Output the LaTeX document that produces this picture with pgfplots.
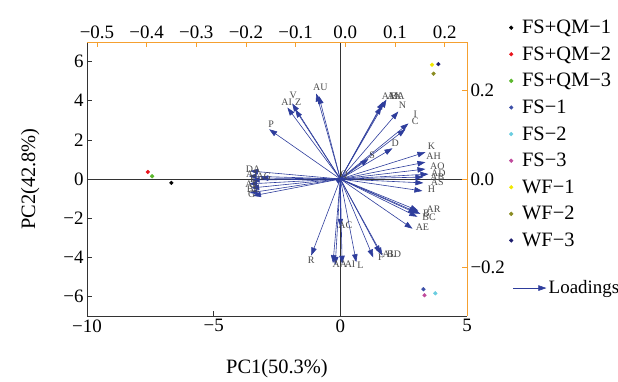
\documentclass[border=0pt]{standalone}
\usepackage{pgfplots}
\usepackage{pgfplotstable}
\pgfplotsset{compat=1.18}
\usepackage{fontspec}
\setmainfont{Liberation Serif}
\usetikzlibrary{arrows.meta}
\definecolor{axorange}{HTML}{F5A030}
\definecolor{arrowblue}{HTML}{2E3D9C}
\definecolor{labgray}{HTML}{4A4A4A}
\definecolor{cred}{HTML}{E8141C}
\definecolor{cgreen}{HTML}{5CB82E}
\definecolor{cblue}{HTML}{3C4FA8}
\definecolor{ccyan}{HTML}{6ACDE0}
\definecolor{cmag}{HTML}{C04A9C}
\definecolor{cyel}{HTML}{F0E800}
\definecolor{colive}{HTML}{8A8C22}
\definecolor{cnavy}{HTML}{1E1E6E}
\newcommand{\bigf}{\fontsize{19}{22}\selectfont}
\newcommand{\legf}{\fontsize{20.5}{23}\selectfont}

\pgfplotstableread{
u v
-0.95 4.37
-0.85 4.25
-1.90 3.86
-2.09 3.65
-1.78 3.55
-2.81 2.54
1.70 3.96
1.62 3.71
1.82 4.06
2.29 3.45
2.69 2.84
2.57 2.54
2.06 1.57
1.11 1.02
3.36 1.37
3.36 0.86
3.36 0.51
3.48 0.25
3.28 0.10
3.28 -0.20
3.24 -0.61
3.08 -1.62
3.16 -1.78
3.04 -1.93
3.00 -1.75
2.85 -2.54
0.00 -2.44
-1.15 -3.91
-0.29 -4.30
-0.20 -4.38
0.07 -4.33
0.63 -4.25
1.30 -4.01
1.58 -3.81
1.66 -3.91
-3.56 0.41
-3.62 0.15
-3.50 -0.05
-3.60 -0.25
-3.52 -0.46
-3.58 -0.71
-3.45 -0.86
-3.16 0.05
0.12 0.10
}\loadings

\pgfplotstableread{
x y lab
-0.79 4.67 AU
-1.86 4.26 V
-2.12 3.91 AI
-1.66 3.91 Z
-2.73 2.81 P
1.96 4.21 AM
2.14 4.21 AX
2.26 4.21 BA
2.45 3.76 N
2.96 3.30 I
2.96 2.94 C
2.17 1.83 D
1.26 1.22 S
3.60 1.68 K
3.68 1.17 AH
3.83 0.63 AO
3.87 0.32 AD
3.83 0.08 AB
3.83 -0.18 AS
3.60 -0.51 H
3.68 -1.55 AR
3.40 -1.73 B
3.50 -1.95 BC
3.24 -2.44 AE
0.20 -2.34 AC
-1.15 -4.16 R
-0.02 -4.37 AA
0.32 -4.37 A
0.52 -4.37 I
0.79 -4.42 L
1.60 -4.02 F
1.93 -3.82 AL
2.12 -3.82 BD
-3.44 0.52 DA
-3.50 0.25 AJ
-3.44 -0.01 E
-3.50 -0.26 AF
-3.44 -0.51 BE
-3.50 -0.78 G
-3.02 0.15 AG
0.15 0.20 Q
}\labels

\begin{document}
\begin{tikzpicture}
\path[use as bounding box] (-87bp,-66bp) rectangle (531bp,316bp);
\begin{axis}[at={(0,0)}, anchor=south west,
  width=380bp, height=274bp, scale only axis,
  xmin=-10, xmax=5, ymin=-7, ymax=7,
  axis x line*=bottom, axis y line*=left,
  axis line style={-, draw=black!80, line width=0.7bp},
  tick align=inside, major tick length=5bp, tick style={black!80, line width=0.7bp},
  xtick={-10,-5,0,5}, xticklabels={−10,−5,0,5},
  ytick={-6,-4,-2,0,2,4,6}, yticklabels={−6,−4,−2,0,2,4,6},
  /pgf/number format/assume math mode=true,
  ticklabel style={font=\bigf},
  xlabel={PC1(50.3\%)}, ylabel={PC2(42.8\%)},
  label style={font=\legf},
  xlabel style={yshift=-20bp}, ylabel style={yshift=17bp},
  clip=false,
  legend style={at={(1.103,1.095)}, anchor=north west, draw=none, fill=none,
    font=\legf, row sep=7.6bp,
    /tikz/every odd column/.append style={column sep=7bp}},
  legend cell align=left,
  legend image code/.code={\draw[#1] plot coordinates {(0bp,0bp)};},
]
\draw[black!80, line width=0.8bp] (axis cs:0,-7) -- (axis cs:0,7);
\draw[black!80, line width=0.8bp] (axis cs:-10,0) -- (axis cs:5,0);
\addplot[forget plot, no markers, arrowblue, line width=0.6bp,
  -{Triangle[length=8bp,width=5.5bp]},
  quiver={u=\thisrow{u}, v=\thisrow{v}}]
  table[x expr=0, y expr=0] {\loadings};
\addplot[forget plot, draw=none, mark=none, nodes near coords,
  point meta=explicit symbolic,
  every node near coord/.style={font=\fontsize{10}{11}\selectfont, text=labgray, anchor=center, inner sep=0pt}]
  table[x=x, y=y, meta=lab] {\labels};
\addplot[only marks, mark=*, mark size=1.9bp, black] coordinates {(-6.67,-0.20)};
\addlegendentry{FS+QM−1}
\addplot[only marks, mark=*, mark size=1.9bp, cred] coordinates {(-7.60,0.36)};
\addlegendentry{FS+QM−2}
\addplot[only marks, mark=*, mark size=1.9bp, cgreen] coordinates {(-7.43,0.14)};
\addlegendentry{FS+QM−3}
\addplot[only marks, mark=*, mark size=1.9bp, cblue] coordinates {(3.28,-5.63)};
\addlegendentry{FS−1}
\addplot[only marks, mark=*, mark size=1.9bp, ccyan] coordinates {(3.75,-5.84)};
\addlegendentry{FS−2}
\addplot[only marks, mark=*, mark size=1.9bp, cmag] coordinates {(3.32,-5.94)};
\addlegendentry{FS−3}
\addplot[only marks, mark=*, mark size=1.9bp, cyel] coordinates {(3.62,5.84)};
\addlegendentry{WF−1}
\addplot[only marks, mark=*, mark size=1.9bp, colive] coordinates {(3.68,5.38)};
\addlegendentry{WF−2}
\addplot[only marks, mark=*, mark size=1.9bp, cnavy] coordinates {(3.87,5.87)};
\addlegendentry{WF−3}
\end{axis}
\begin{axis}[at={(0,0)}, anchor=south west,
  width=380bp, height=274bp, scale only axis,
  xmin=-0.52, xmax=0.245, ymin=-0.31, ymax=0.31,
  axis x line*=top, axis y line*=right,
  axis line style={-, draw=axorange, line width=0.7bp},
  tick align=inside, major tick length=5bp, tick style={axorange, line width=0.7bp},
  xtick={-0.5,-0.4,-0.3,-0.2,-0.1,0,0.1,0.2},
  xticklabels={−0.5,−0.4,−0.3,−0.2,−0.1,0.0,0.1,0.2},
  ytick={-0.2,0,0.2}, yticklabels={−0.2,0.0,0.2},
  ticklabel style={font=\bigf},
  legend style={at={(1.113,0.102)}, anchor=west, draw=none, fill=none, font=\bigf},
  legend image code/.code={\draw[#1] (0bp,0bp) -- (33bp,0bp);},
]
\addlegendimage{arrowblue, line width=0.6bp, -{Triangle[length=8bp,width=5.5bp]}}
\addlegendentry{Loadings}
\end{axis}
\end{tikzpicture}
\end{document}
